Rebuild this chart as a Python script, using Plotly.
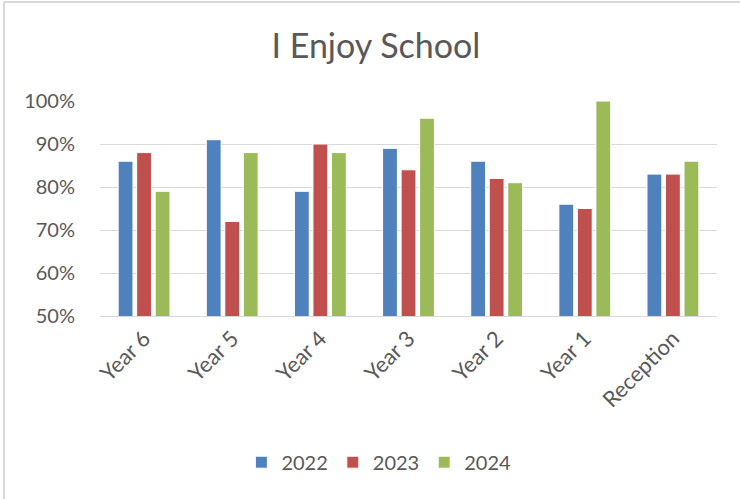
import plotly.graph_objects as go

categories = ['Year 6', 'Year 5', 'Year 4', 'Year 3', 'Year 2', 'Year 1', 'Reception']
y2022 = [0.86, 0.91, 0.79, 0.89, 0.86, 0.76, 0.83]
y2023 = [0.88, 0.72, 0.90, 0.84, 0.82, 0.75, 0.83]
y2024 = [0.79, 0.88, 0.88, 0.96, 0.81, 1.00, 0.86]

series = [('2022', y2022, '#4F81BD'), ('2023', y2023, '#C0504D'), ('2024', y2024, '#9BBB59')]

fig = go.Figure()
for name, vals, color in series:
    fig.add_trace(go.Bar(
        x=categories,
        y=vals,
        name=name,
        marker=dict(color=color, line=dict(color='white', width=1)),
    ))

text_color = '#595959'
font_family = 'Lato, Open Sans, sans-serif'

fig.update_layout(
    width=740,
    height=499,
    paper_bgcolor='white',
    plot_bgcolor='white',
    margin=dict(l=100, r=23, t=101, b=183),
    barmode='group',
    bargap=0.37,
    bargroupgap=0.2,
    font=dict(family=font_family, color=text_color, size=20),
    title=dict(
        text='I Enjoy School',
        x=0.508,
        xanchor='center',
        y=0.908,
        yanchor='middle',
        font=dict(size=34, color=text_color, family=font_family),
    ),
    showlegend=True,
    legend=dict(
        orientation='h',
        x=0.452,
        xanchor='center',
        y=-0.68,
        yanchor='middle',
        font=dict(size=20, color=text_color),
        itemwidth=30,
        traceorder='normal',
    ),
    xaxis=dict(
        tickangle=-45,
        showgrid=False,
        showline=True,
        linecolor='#D9D9D9',
        linewidth=1,
        ticks='',
        tickfont=dict(size=22, color=text_color),
    ),
    yaxis=dict(
        range=[0.5, 1.0],
        dtick=0.1,
        tickformat='.0%',
        showgrid=True,
        gridcolor='#D9D9D9',
        gridwidth=1,
        zeroline=False,
        ticks='',
        ticklabelstandoff=24,
        tickfont=dict(size=20, color=text_color),
    ),
)

# thin frame visible along the top and left edges
fig.add_shape(type='line', xref='paper', yref='paper',
              x0=-0.1556, x1=1.04, y0=1.4605, y1=1.4605,
              line=dict(color='#D9D9D9', width=2))
fig.add_shape(type='line', xref='paper', yref='paper',
              x0=-0.1556, x1=-0.1556, y0=-0.86, y1=1.4605,
              line=dict(color='#D9D9D9', width=2))

fig.write_html("out.html", config={'displayModeBar': False},
               post_script="document.body.style.margin='0';")
